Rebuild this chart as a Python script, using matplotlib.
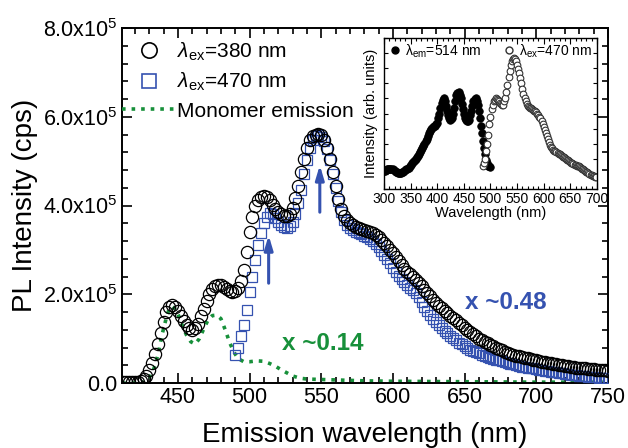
import numpy as np
import matplotlib
matplotlib.use("Agg")
import matplotlib.pyplot as plt
from matplotlib.lines import Line2D
from matplotlib.ticker import MultipleLocator, FixedLocator

plt.rcParams['font.family'] = ['Liberation Sans', 'DejaVu Sans']
plt.rcParams['mathtext.fontset'] = 'custom'
plt.rcParams['mathtext.rm'] = 'Liberation Sans'
plt.rcParams['mathtext.it'] = 'Liberation Sans:italic'
plt.rcParams['mathtext.bf'] = 'Liberation Sans:bold'

# ---------------- data (intensity in units of 1e5 cps) ----------------
wl_380 = np.arange(412, 751, 2)
pl_380 = [.02, .02, .02, .02, .03, .03, .05, .08, .15, .30,
          .45, .65, .88, 1.12, 1.38, 1.60, 1.72, 1.76, 1.72, 1.63,
          1.52, 1.40, 1.30, 1.23, 1.20, 1.23, 1.34, 1.50, 1.67, 1.85,
          2.00, 2.12, 2.19, 2.22, 2.21, 2.17, 2.12, 2.08, 2.06, 2.08,
          2.15, 2.30, 2.55, 2.95, 3.40, 3.75, 3.98, 4.12, 4.19, 4.22,
          4.20, 4.12, 4.02, 3.93, 3.85, 3.80, 3.77, 3.77, 3.82, 3.95,
          4.18, 4.45, 4.75, 5.05, 5.30, 5.47, 5.56, 5.60, 5.61, 5.58,
          5.48, 5.30, 5.05, 4.75, 4.45, 4.15, 3.92, 3.77, 3.67, 3.60,
          3.55, 3.52, 3.49, 3.47, 3.45, 3.43, 3.41, 3.38, 3.34, 3.28,
          3.22, 3.15, 3.08, 3.00, 2.92, 2.84, 2.75, 2.66, 2.58, 2.50,
          2.45, 2.39, 2.33, 2.26, 2.18, 2.10, 2.02, 1.95, 1.88, 1.81,
          1.74, 1.68, 1.63, 1.58, 1.52, 1.46, 1.41, 1.35, 1.30, 1.25,
          1.20, 1.15, 1.10, 1.05, 1.00, 0.97, 0.93, 0.90, 0.86, 0.83,
          0.80, 0.77, 0.74, 0.71, 0.68, 0.66, 0.64, 0.62, 0.60, 0.59,
          0.57, 0.56, 0.55, 0.53, 0.51, 0.50, 0.48, 0.47, 0.46, 0.45,
          0.43, 0.42, 0.41, 0.40, 0.39, 0.38, 0.37, 0.36, 0.35, 0.34,
          .335, .33, .32, .315, .31, .30, .295, .29, .285, .28]

wl_470 = np.arange(490, 751, 2)
pl_470 = [.63, .80, 1.05, 1.30, 1.65, 2.05, 2.40, 2.78, 3.10, 3.38,
          3.60, 3.75, 3.83, 3.82, 3.72, 3.62, 3.55, 3.51, 3.50, 3.53,
          3.62, 3.80, 4.05, 4.35, 4.70, 5.02, 5.30, 5.47, 5.56, 5.58,
          5.55, 5.45, 5.27, 5.02, 4.72, 4.40, 4.10, 3.85, 3.68, 3.57,
          3.50, 3.45, 3.41, 3.38, 3.35, 3.32, 3.29, 3.25, 3.20, 3.14,
          3.06, 2.98, 2.89, 2.80, 2.70, 2.60, 2.50, 2.42, 2.34, 2.27,
          2.20, 2.14, 2.09, 2.02, 1.93, 1.83, 1.72, 1.62, 1.53, 1.45,
          1.37, 1.30, 1.23, 1.17, 1.12, 1.06, 1.01, 0.96, 0.91, 0.87,
          0.83, 0.79, 0.75, 0.72, 0.69, 0.67, 0.64, 0.62, 0.59, 0.57,
          0.55, 0.53, 0.51, 0.49, 0.47, 0.45, 0.43, 0.42, 0.40, 0.39,
          0.37, 0.36, 0.35, 0.34, 0.33, 0.32, 0.30, 0.29, 0.28, 0.27,
          0.26, 0.25, 0.24, 0.23, 0.22, 0.21, 0.20, 0.19, 0.18, 0.17,
          .165, .16, .15, .145, .14, .13, .125, .12, .115, .11,
          .105]

wl_mono = [411, 425, 430, 433, 436, 439, 442, 444, 446, 448, 450, 453, 456,
           459, 462, 465, 468, 471, 474, 477, 480, 483, 486, 489, 492, 496,
           500, 505, 510, 514, 518, 522, 526, 530, 535, 540, 550, 560, 580,
           600, 650, 700, 750]
pl_mono = [0.0, 0.0, 0.12, 0.30, 0.62, 1.10, 1.48, 1.68, 1.72, 1.67, 1.56,
           1.30, 1.08, 0.93, 0.88, 1.00, 1.22, 1.42, 1.52, 1.53, 1.45, 1.20,
           0.92, 0.70, 0.55, 0.48, 0.48, 0.50, 0.49, 0.44, 0.38, 0.30, 0.23,
           0.16, 0.11, 0.09, 0.08, 0.07, 0.05, 0.04, 0.03, 0.02, 0.02]

# inset: excitation (lambda_em = 514 nm) and emission (lambda_ex = 470 nm)
wl_exc = np.arange(300, 501, 2)
in_exc = [.12, .12, .125, .13, .133, .135, .135, .133, .13, .125,
          .12, .115, .11, .108, .107, .107, .108, .11, .115, .12,
          .125, .13, .135, .142, .15, .16, .17, .178, .185, .192,
          .2, .21, .22, .232, .245, .257, .27, .285, .3, .315,
          .33, .35, .37, .385, .4, .405, .41, .415, .42, .43,
          .44, .47, .5, .54, .57, .59, .6, .58, .55, .52,
          .49, .47, .46, .462, .47, .5, .54, .58, .62, .635,
          .64, .625, .6, .565, .53, .5, .47, .455, .45, .45,
          .46, .49, .52, .55, .58, .595, .6, .585, .56, .52,
          .47, .42, .37, .32, .27, .23, .19, .17, .155, .15,
          .145]
wl_em = np.arange(486, 699, 2)
in_em = [.15, .17, .2, .25, .3, .36, .43, .48, .53, .555,
         .58, .59, .6, .598, .59, .58, .57, .563, .56, .56,
         .58, .6, .64, .69, .74, .78, .82, .845, .86, .865,
         .86, .845, .82, .795, .77, .735, .7, .665, .63, .605,
         .58, .565, .55, .545, .54, .535, .53, .525, .52, .515,
         .51, .5, .49, .48, .47, .45, .43, .41, .39, .37,
         .35, .33, .31, .295, .28, .27, .26, .255, .25, .245,
         .24, .235, .23, .225, .22, .215, .21, .205, .2, .195,
         .19, .185, .18, .175, .17, .165, .16, .157, .155, .152,
         .15, .145, .14, .135, .13, .125, .12, .115, .11, .105,
         .1, .095, .09, .087, .085, .082, .08]

y_ticks = [0, 2, 4, 6, 8]
y_tick_labels = ['0.0', r'2.0x10$^5$', r'4.0x10$^5$', r'6.0x10$^5$', r'8.0x10$^5$']

BLUE = '#3552b0'
GREEN = '#17903a'

fig = plt.figure(figsize=(6.28, 4.48), dpi=100)
ax = fig.add_axes([0.1943, 0.145, 0.7737, 0.7925])

scale = 1e5
ax.plot(wl_mono, np.array(pl_mono) * scale, ls=':', color=GREEN, lw=2.6, zorder=2)
ax.plot(wl_470, np.array(pl_470) * scale, ls='none', marker='s', ms=7.4,
        mfc='none', mec=BLUE, mew=0.9, zorder=3)
ax.plot(wl_380, np.array(pl_380) * scale, ls='none', marker='o', ms=8.8,
        mfc='none', mec='black', mew=0.9, zorder=4)

ax.set_xlim(411, 750)
ax.set_ylim(0, 8e5)
ax.xaxis.set_major_locator(FixedLocator([450, 500, 550, 600, 650, 700, 750]))
ax.xaxis.set_minor_locator(MultipleLocator(10))
ax.yaxis.set_major_locator(FixedLocator([v * scale for v in y_ticks]))
ax.set_yticklabels(y_tick_labels)
ax.yaxis.set_minor_locator(MultipleLocator(0.4e5))
ax.tick_params(which='both', direction='in', top=True, right=True, width=1.2)
ax.tick_params(which='major', length=7, labelsize=15.5, pad=3)
ax.tick_params(which='minor', length=4)
for s in ax.spines.values():
    s.set_linewidth(1.4)

ax.set_xlabel('Emission wavelength (nm)', fontsize=20, labelpad=10)
ax.set_ylabel('PL Intensity (cps)', fontsize=20, labelpad=4)

handles = [
    Line2D([], [], ls='none', marker='o', ms=11, mfc='none', mec='black', mew=1.2),
    Line2D([], [], ls='none', marker='s', ms=10, mfc='none', mec=BLUE, mew=1.2),
    Line2D([], [], ls=':', color=GREEN, lw=2.6),
]
labels = [r'$\lambda_{\rm ex}$=380 nm', r'$\lambda_{\rm ex}$=470 nm', 'Monomer emission']
ax.legend(handles, labels, loc='upper left', bbox_to_anchor=(0.0, 0.965),
          frameon=False, fontsize=15, handlelength=2.55, handletextpad=0.1,
          labelspacing=0.4, borderpad=0.0, borderaxespad=0.0)

# arrows
astyle = '-|>,head_length=0.6,head_width=0.18'
ax.annotate('', xy=(513.3, 3.33e5), xytext=(513.3, 2.25e5),
            arrowprops=dict(arrowstyle=astyle, color=BLUE, lw=2.2,
                            mutation_scale=14, shrinkA=0, shrinkB=0))
ax.annotate('', xy=(549, 4.91e5), xytext=(549, 3.85e5),
            arrowprops=dict(arrowstyle=astyle, color=BLUE, lw=2.2,
                            mutation_scale=14, shrinkA=0, shrinkB=0))

ax.text(551, 0.88e5, 'x ~0.14', color=GREEN, fontsize=17.5, fontweight='bold',
        ha='center', va='center')
ax.text(678.5, 1.81e5, 'x ~0.48', color=BLUE, fontsize=17.5, fontweight='bold',
        ha='center', va='center')

# inset
ins = fig.add_axes([0.6115, 0.578, 0.339, 0.337])
ins.plot(wl_exc, in_exc, ls='none', marker='o', ms=5.4, mfc='black', mec='black',
         mew=0.6)
ins.plot(wl_em, in_em, ls='none', marker='o', ms=4.8, mfc='white', mec='#333333',
         mew=0.8)
ins.set_xlim(300, 700)
ins.set_ylim(0, 1)
ins.xaxis.set_major_locator(MultipleLocator(50))
ins.xaxis.set_minor_locator(MultipleLocator(10))
ins.yaxis.set_major_locator(MultipleLocator(0.1))
ins.set_yticklabels([])
ins.tick_params(which='both', direction='in', top=True, right=True, width=0.8)
ins.tick_params(which='major', length=4, labelsize=10, pad=2)
ins.tick_params(which='minor', length=2)
ins.tick_params(axis='y', which='major', length=3)
for s in ins.spines.values():
    s.set_linewidth(1.0)
ins.set_xlabel('Wavelength (nm)', fontsize=10.5, labelpad=0)
ins.set_ylabel('Intensity (arb. units)', fontsize=10.5, labelpad=2)

ih = [Line2D([], [], ls='none', marker='o', ms=5, mfc='black', mec='black'),
      Line2D([], [], ls='none', marker='o', ms=5, mfc='white', mec='#333333')]
il = [r'$\mathrm{\lambda}_{\rm em}$=514 nm', r'$\mathrm{\lambda}_{\rm ex}$=470 nm']
ins.legend(ih, il, loc='upper center', ncol=2, frameon=False, fontsize=10,
           handlelength=1.0, handletextpad=0.2, columnspacing=1.5,
           borderpad=0.2, borderaxespad=0.1)

fig.savefig('out.png', dpi=100)
